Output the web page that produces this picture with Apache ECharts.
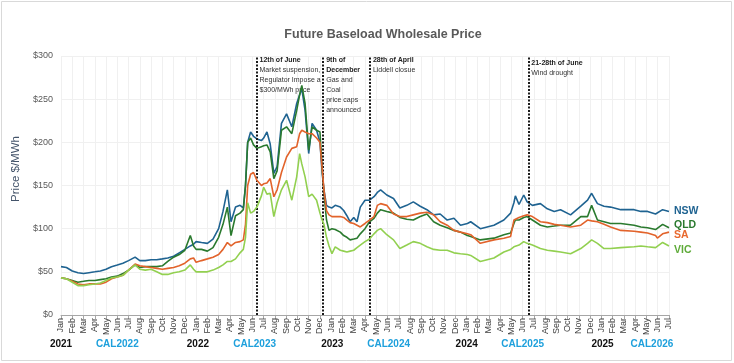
<!DOCTYPE html>
<html><head><meta charset="utf-8">
<script src="https://cdn.jsdelivr.net/npm/echarts@6/dist/echarts.min.js"></script>
<style>html,body{margin:0;padding:0;background:#fff;}#c{width:734px;height:363px;}</style>
</head><body><div id="c"></div>
<script>
const dates = ['2021-01-01','2021-01-16','2021-02-01','2021-02-15','2021-03-01','2021-03-16','2021-04-01','2021-04-16','2021-05-01','2021-05-16',
'2021-06-01','2021-06-16','2021-07-01','2021-07-19','2021-08-01','2021-08-16','2021-09-01','2021-09-16','2021-10-01','2021-10-16',
'2021-11-01','2021-11-16','2021-12-01','2021-12-16','2021-12-25','2022-01-01','2022-01-16','2022-02-01','2022-02-15','2022-03-01',
'2022-03-13','2022-03-25','2022-04-04','2022-04-16','2022-04-28','2022-05-07','2022-05-13','2022-05-19','2022-05-27','2022-06-04',
'2022-06-13','2022-06-25','2022-07-01','2022-07-10','2022-07-19','2022-07-29','2022-08-07','2022-08-19','2022-09-02','2022-09-16',
'2022-09-29','2022-10-07','2022-10-13','2022-10-22','2022-11-01','2022-11-10','2022-11-22','2022-12-01','2022-12-07','2022-12-12',
'2022-12-19','2022-12-26','2023-01-03','2023-01-12','2023-01-26','2023-02-04','2023-02-12','2023-02-20','2023-03-01','2023-03-10',
'2023-03-19','2023-04-01','2023-04-13','2023-04-25','2023-05-04','2023-05-13','2023-05-30','2023-06-17','2023-07-04','2023-07-23',
'2023-08-10','2023-08-29','2023-09-16','2023-10-04','2023-10-22','2023-11-10','2023-11-28','2023-12-16','2024-01-04','2024-01-13',
'2024-02-08','2024-03-15','2024-04-11','2024-04-29','2024-05-08','2024-05-12','2024-05-22','2024-06-04','2024-06-13','2024-06-27',
'2024-07-19','2024-08-07','2024-08-26','2024-09-12','2024-10-09','2024-11-06','2024-11-24','2024-12-05','2024-12-21','2025-01-08',
'2025-01-26','2025-02-21','2025-03-29','2025-04-16','2025-05-04','2025-05-26','2025-05-31','2025-06-14','2025-07-01'];
const nsw = [56,55,51,49,48,49,50,51,53,56, 58,60,63,67,63,63,64,64,65,66, 68,72,76,80,82,85,84,83,88,100,
120,145,108,125,127,124,150,200,212,207, 204,202,205,212,198,164,172,222,233,218, 245,255,262,237,187,222,214,200,165,145,
127,125,124,127,125,121,115,108,113,108, 125,133,133,137,142,145,139,135,124,127, 131,126,122,116,117,110,112,104,106,108,
100,104,110,118,130,138,128,139,131,127, 129,123,120,122,116,126,133,141,129,126, 125,122,122,120,120,117,117,122,120];
const qld = [43,42,40,38,39,40,40,41,42,44, 45,48,52,58,55,56,56,56,57,62, 67,70,75,92,80,76,76,74,78,90,
105,125,92,115,118,122,150,200,205,197, 193,195,196,197,189,158,167,214,218,210, 237,255,266,245,191,218,214,212,170,141,
110,98,100,99,96,92,90,87,88,89, 94,100,108,112,118,122,120,118,113,111, 110,114,117,108,104,101,98,96,92,91,
87,89,93,95,106,110,110,113,114,110, 104,102,103,104,104,114,114,127,110,108, 106,106,104,102,101,99,99,105,101];
const sa = [43,42,39,36,35,36,36,36,38,42, 44,46,52,59,57,56,55,54,53,54, 55,57,60,65,66,61,63,65,67,70,
76,84,80,84,85,87,105,150,163,165, 156,150,152,153,158,137,145,165,183,193, 195,210,214,212,210,210,205,200,170,145,
121,116,114,114,114,113,110,107,106,104, 102,106,110,114,127,129,127,117,114,114, 116,118,119,116,108,104,98,96,94,93,
83,87,89,91,110,112,113,115,116,114, 108,107,105,104,102,104,110,109,108,105, 102,98,97,96,95,92,89,94,96];
const vic = [43,42,38,34,34,35,36,37,40,43, 44,46,52,58,53,52,53,50,47,47, 49,50,52,58,53,50,50,50,52,55,
58,62,62,65,72,76,90,130,118,120, 125,138,148,140,141,114,130,145,156,133, 160,187,175,160,137,140,133,118,110,105,
90,80,71,79,75,74,73,74,75,78, 81,85,88,94,98,100,93,87,77,81, 85,83,79,76,75,75,72,71,70,69,
62,66,73,76,79,80,81,85,83,81, 77,75,74,73,71,77,83,87,83,77, 77,78,79,80,79,78,78,84,80];
const seriesNames = ['NSW','QLD','SA','VIC'];
const monthNames = ['Jan','Feb','Mar','Apr','May','Jun','Jul','Aug','Sep','Oct','Nov','Dec'];
const periodLabels = ['2021','CAL2022','2022','CAL2023','2023','CAL2024','2024','CAL2025','2025','CAL2026'];
const periodDates = ['2021-01-01','2021-06-01','2022-01-06','2022-06-07','2023-01-04','2023-06-04','2024-01-02','2024-06-01','2025-01-04','2025-05-16'];
const eventDates = ['2022-06-12','2022-12-10','2023-04-14','2024-06-16'];
const eventTitles = ['12th of June','9th of\nDecember','28th of April','21-28th of June'];
const eventNotes = ['Market suspension,\nRegulator Impose a\n$300/MWh price','Gas and\nCoal\nprice caps\nannounced','Liddell closue','Wind drought'];
const yTicks = {min:0, max:300, step:50};

function toM(s){const p=s.split('-').map(Number);const dim=new Date(p[0],p[1],0).getDate();return (p[0]-2021)*12+(p[1]-1)+(p[2]-1)/dim;}
const xs = dates.map(toM);
const periodPos = periodDates.map(toM);

const lineColors = ['#1f6391','#2a7a2e','#e2632b','#92d050'];
const labelColors = ['#1f6391','#2a7a2e','#e8692e','#5fab3a'];
const labelOffsets = [[0,0],[0,-3],[0,3],[0,4]];
const allValues = [nsw,qld,sa,vic];

const chart = echarts.init(document.getElementById('c'));
const series = allValues.map((vals,k)=>({
  name: seriesNames[k], type:'line', showSymbol:false, smooth:false,
  data: xs.map((x,i)=>[x, vals[i]]),
  lineStyle:{color:lineColors[k], width:1.6}, itemStyle:{color:lineColors[k]},
  z: 3+k,
  endLabel:{show:true, formatter: seriesNames[k], color: labelColors[k], fontWeight:'bold', fontSize:10.5, distance:5, offset: labelOffsets[k]}
}));
series[0].markLine = {
  silent:true, symbol:['none','none'], animation:false,
  label:{show:false},
  lineStyle:{color:'#1a1a1a', type:[2,1.5], width:2},
  data: eventDates.map(d=>({xAxis: toM(d)}))
};

chart.setOption({
  animation:false,
  textStyle:{fontFamily:'Liberation Sans'},
  title:{text:'Future Baseload Wholesale Price', left:378, textAlign:'center', top:23,
    textStyle:{fontSize:12.5, fontWeight:'bold', color:'#595959', fontFamily:'Liberation Sans'}},
  grid:{left:61, right:65, top:56, bottom:48},
  xAxis:[{
    type:'value', min:0, max:54, interval:1,
    axisLine:{lineStyle:{color:'#a6a6a6'}},
    axisTick:{show:true, length:4, lineStyle:{color:'#a6a6a6'}},
    axisLabel:{rotate:90, fontSize:9, color:'#404040', margin:3, formatter: v => monthNames[Math.round(v)%12]},
    splitLine:{show:true, lineStyle:{color:'#f0f0f0'}}
  },{
    type:'value', min:0, max:54, position:'bottom', offset:22,
    axisLine:{show:false}, axisTick:{show:false}, splitLine:{show:false},
    axisLabel:{customValues: periodPos, margin:2, showMinLabel:true, showMaxLabel:true,
      formatter: v => { let best=0; periodPos.forEach((p,i)=>{ if(Math.abs(p-v)<Math.abs(periodPos[best]-v)) best=i; });
        const t=periodLabels[best]; return t.indexOf('CAL')===0 ? '{c|'+t+'}' : '{y|'+t+'}'; },
      rich:{y:{fontSize:10, fontWeight:'bold', color:'#111'}, c:{fontSize:10, fontWeight:'bold', color:'#1ea0dc'}}}
  }],
  yAxis:{type:'value', min:yTicks.min, max:yTicks.max, interval:yTicks.step,
    axisLabel:{formatter:'${value}', fontSize:9, color:'#595959', margin:8},
    axisLine:{show:false}, axisTick:{show:false},
    splitLine:{lineStyle:{color:'#f0f0f0'}}},
  series: series
});

const topY = chart.convertToPixel({yAxisIndex:0}, yTicks.max);
const graphics = [
  {type:'rect', shape:{x:1.5,y:1.5,width:730,height:359}, style:{fill:'none', stroke:'#d9d9d9', lineWidth:1}, silent:true},
  {type:'text', x:16, y:169, rotation:Math.PI/2, style:{text:'Price $/MWh', fill:'#44546a', fontSize:11.5, fontFamily:'Liberation Sans', align:'center', verticalAlign:'middle'}}
];
eventDates.forEach((d,i)=>{
  const px = chart.convertToPixel({xAxisIndex:0}, toM(d));
  const txt = eventTitles[i].split('\n').map(s=>'{b|'+s+'}').concat(eventNotes[i].split('\n').map(s=>'{n|'+s+'}')).join('\n');
  graphics.push({type:'text', x:px+3, y:topY-1 + (i===3?3:0), silent:true,
    style:{text:txt, fontFamily:'Liberation Sans', rich:{
      b:{fontSize:7, fontWeight:'bold', fill:'#222', lineHeight:10, fontFamily:'Liberation Sans'},
      n:{fontSize:7, fill:'#333', lineHeight:10, fontFamily:'Liberation Sans'}}}});
});
chart.setOption({graphic: graphics});
</script></body></html>
